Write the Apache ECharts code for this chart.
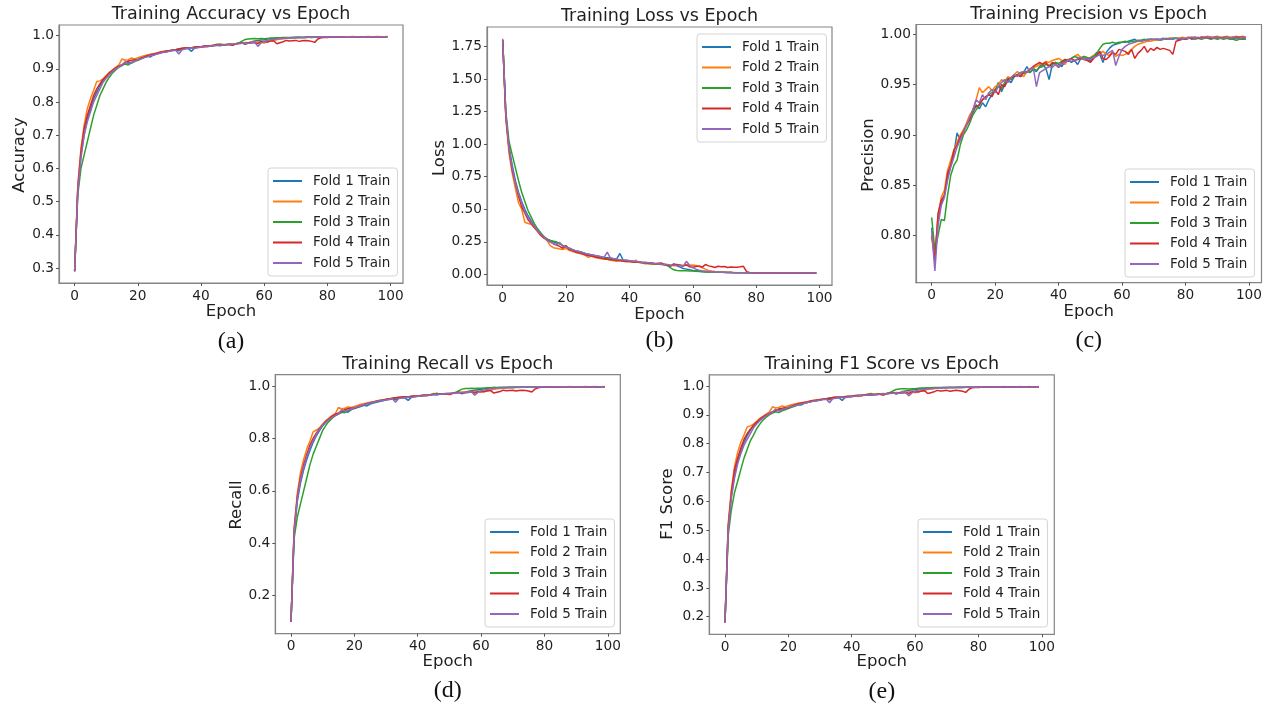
<!DOCTYPE html>
<html>
<head>
<meta charset="utf-8">
<title>Training metrics per fold</title>
<script src="https://cdn.jsdelivr.net/npm/echarts@6/dist/echarts.min.js"></script>
<style>
  html, body { margin: 0; padding: 0; background: #ffffff; }
  #chart { width: 1273px; height: 713px; }
</style>
</head>
<body>
<div id="chart"></div>
<script>
// ---------------- data ----------------
const foldNames = ['Fold 1 Train', 'Fold 2 Train', 'Fold 3 Train', 'Fold 4 Train', 'Fold 5 Train'];
const foldColors = ['#1f77b4', '#ff7f0e', '#2ca02c', '#d62728', '#9467bd'];
const epochTicks = [0, 20, 40, 60, 80, 100];

const accFold1 = [0.29,0.54,0.64,0.70,0.75,0.78,0.81,0.83,0.85,0.865,
0.875,0.885,0.895,0.902,0.908,0.913,0.918,0.921,0.918,0.925,
0.929,0.932,0.935,0.938,0.936,0.942,0.945,0.948,0.95,0.952,
0.954,0.956,0.957,0.955,0.96,0.962,0.961,0.953,0.963,0.965,
0.966,0.967,0.968,0.969,0.97,0.971,0.97,0.972,0.973,0.974,
0.972,0.976,0.978,0.979,0.974,0.978,0.982,0.984,0.986,0.987,
0.988,0.99,0.991,0.992,0.994,0.993,0.993,0.994,0.994,0.995,
0.994,0.995,0.995,0.995,0.996,0.995,0.996,0.996,0.996,0.996,
0.996,0.997,0.996,0.997,0.996,0.997,0.997,0.996,0.997,0.997,
0.997,0.997,0.996,0.997,0.997,0.997,0.997,0.996,0.997,0.997];
const accFold2 = [0.29,0.55,0.66,0.73,0.78,0.81,0.835,0.862,0.864,0.87,
0.88,0.89,0.897,0.905,0.912,0.93,0.926,0.928,0.933,0.93,
0.934,0.937,0.94,0.942,0.944,0.946,0.948,0.95,0.953,0.952,
0.955,0.957,0.958,0.96,0.962,0.963,0.962,0.964,0.965,0.966,
0.967,0.968,0.966,0.97,0.971,0.975,0.973,0.974,0.972,0.975,
0.976,0.975,0.977,0.978,0.98,0.979,0.981,0.98,0.982,0.981,
0.978,0.982,0.984,0.986,0.988,0.99,0.991,0.992,0.993,0.993,
0.994,0.994,0.995,0.995,0.995,0.996,0.996,0.996,0.996,0.997,
0.996,0.997,0.997,0.997,0.996,0.997,0.997,0.997,0.998,0.997,
0.997,0.997,0.997,0.998,0.997,0.997,0.998,0.997,0.997,0.998];
const accFold3 = [0.29,0.52,0.60,0.64,0.68,0.72,0.76,0.79,0.82,0.84,
0.86,0.875,0.888,0.897,0.905,0.91,0.915,0.912,0.918,0.922,
0.926,0.93,0.934,0.937,0.94,0.943,0.946,0.949,0.951,0.953,
0.955,0.957,0.958,0.96,0.961,0.962,0.963,0.964,0.965,0.966,
0.967,0.968,0.969,0.97,0.971,0.972,0.975,0.973,0.974,0.975,
0.974,0.976,0.978,0.984,0.989,0.99,0.991,0.992,0.991,0.992,
0.991,0.992,0.993,0.993,0.994,0.994,0.995,0.995,0.995,0.995,
0.996,0.996,0.995,0.996,0.996,0.996,0.996,0.997,0.996,0.996,
0.997,0.996,0.997,0.997,0.997,0.996,0.997,0.997,0.997,0.997,
0.996,0.997,0.997,0.996,0.997,0.997,0.996,0.997,0.996,0.996];
const accFold4 = [0.29,0.54,0.65,0.72,0.76,0.79,0.82,0.84,0.855,0.868,
0.878,0.888,0.896,0.903,0.908,0.912,0.918,0.924,0.926,0.928,
0.927,0.933,0.936,0.94,0.943,0.945,0.947,0.95,0.952,0.954,
0.955,0.956,0.958,0.96,0.962,0.963,0.964,0.962,0.966,0.967,
0.966,0.969,0.97,0.968,0.971,0.972,0.973,0.972,0.974,0.973,
0.971,0.975,0.977,0.978,0.976,0.979,0.978,0.98,0.976,0.982,
0.983,0.981,0.984,0.985,0.976,0.979,0.982,0.986,0.984,0.985,
0.986,0.983,0.985,0.986,0.985,0.983,0.98,0.99,0.994,0.995,
0.995,0.996,0.996,0.996,0.997,0.996,0.997,0.997,0.997,0.996,
0.997,0.997,0.997,0.997,0.996,0.997,0.997,0.997,0.997,0.997];
const accFold5 = [0.29,0.53,0.63,0.70,0.74,0.77,0.80,0.82,0.84,0.86,
0.872,0.883,0.892,0.9,0.906,0.911,0.922,0.915,0.92,0.924,
0.928,0.931,0.934,0.937,0.94,0.942,0.945,0.947,0.95,0.951,
0.953,0.955,0.956,0.945,0.958,0.96,0.962,0.963,0.962,0.964,
0.966,0.967,0.968,0.969,0.97,0.971,0.972,0.972,0.973,0.974,
0.974,0.975,0.976,0.977,0.978,0.977,0.979,0.98,0.968,0.978,
0.983,0.986,0.988,0.989,0.99,0.991,0.992,0.993,0.993,0.994,
0.994,0.995,0.995,0.995,0.996,0.995,0.996,0.996,0.996,0.997,
0.996,0.996,0.997,0.997,0.997,0.996,0.997,0.997,0.997,0.997,
0.997,0.996,0.997,0.997,0.997,0.996,0.997,0.997,0.997,0.996];

const lossFold1 = [1.80,1.22,0.98,0.84,0.72,0.63,0.56,0.5,0.45,0.41,
0.37,0.34,0.31,0.29,0.27,0.26,0.25,0.24,0.235,0.22,
0.21,0.2,0.19,0.18,0.175,0.17,0.16,0.155,0.15,0.145,
0.14,0.135,0.13,0.128,0.125,0.12,0.118,0.16,0.11,0.108,
0.105,0.1,0.1,0.095,0.092,0.09,0.088,0.085,0.083,0.08,
0.082,0.072,0.068,0.062,0.08,0.065,0.055,0.045,0.04,0.035,
0.03,0.028,0.025,0.022,0.018,0.02,0.018,0.017,0.016,0.015,
0.015,0.014,0.014,0.013,0.013,0.013,0.012,0.012,0.012,0.012,
0.011,0.011,0.011,0.011,0.01,0.01,0.01,0.01,0.01,0.01,
0.01,0.01,0.01,0.009,0.01,0.009,0.01,0.009,0.01,0.01];
const lossFold2 = [1.80,1.2,0.93,0.78,0.66,0.55,0.5,0.4,0.39,0.385,
0.36,0.33,0.3,0.28,0.26,0.22,0.205,0.2,0.195,0.19,
0.2,0.185,0.175,0.17,0.162,0.155,0.148,0.13,0.14,0.13,
0.125,0.12,0.118,0.115,0.11,0.105,0.1,0.102,0.1,0.098,
0.095,0.094,0.11,0.09,0.088,0.08,0.085,0.075,0.08,0.078,
0.075,0.072,0.07,0.068,0.065,0.07,0.072,0.068,0.075,0.07,
0.072,0.068,0.06,0.05,0.04,0.03,0.025,0.022,0.02,0.018,
0.016,0.015,0.014,0.014,0.013,0.012,0.012,0.012,0.011,0.011,
0.01,0.01,0.01,0.01,0.01,0.01,0.009,0.009,0.009,0.009,
0.009,0.009,0.008,0.008,0.009,0.008,0.008,0.008,0.008,0.008];
const lossFold3 = [1.80,1.25,1.02,0.92,0.82,0.72,0.63,0.56,0.49,0.44,
0.39,0.35,0.32,0.29,0.27,0.26,0.255,0.25,0.235,0.22,
0.215,0.2,0.19,0.18,0.175,0.165,0.16,0.152,0.145,0.14,
0.135,0.13,0.125,0.12,0.118,0.115,0.11,0.108,0.105,0.102,
0.1,0.098,0.095,0.093,0.09,0.088,0.082,0.085,0.08,0.078,
0.082,0.075,0.068,0.05,0.035,0.03,0.028,0.027,0.028,0.026,
0.026,0.024,0.022,0.02,0.019,0.018,0.017,0.016,0.016,0.015,
0.014,0.014,0.015,0.013,0.013,0.012,0.012,0.011,0.012,0.011,
0.011,0.011,0.01,0.01,0.01,0.011,0.01,0.01,0.01,0.01,
0.011,0.01,0.01,0.011,0.01,0.01,0.011,0.01,0.012,0.012];
const lossFold4 = [1.80,1.21,0.96,0.8,0.7,0.6,0.52,0.47,0.42,0.39,
0.36,0.33,0.3,0.28,0.265,0.25,0.235,0.225,0.215,0.2,
0.22,0.19,0.185,0.17,0.165,0.16,0.15,0.145,0.14,0.135,
0.13,0.125,0.12,0.115,0.112,0.11,0.108,0.112,0.1,0.098,
0.102,0.095,0.092,0.095,0.088,0.09,0.085,0.088,0.082,0.085,
0.088,0.078,0.072,0.065,0.078,0.075,0.07,0.065,0.072,0.058,
0.055,0.06,0.065,0.055,0.075,0.065,0.06,0.052,0.062,0.058,
0.06,0.052,0.056,0.055,0.055,0.058,0.062,0.02,0.015,0.013,
0.012,0.011,0.011,0.01,0.01,0.01,0.01,0.009,0.009,0.01,
0.009,0.009,0.009,0.009,0.01,0.009,0.009,0.009,0.009,0.009];
const lossFold5 = [1.81,1.23,0.97,0.82,0.7,0.62,0.55,0.48,0.44,0.4,
0.37,0.335,0.31,0.29,0.26,0.25,0.235,0.225,0.245,0.215,
0.21,0.2,0.19,0.18,0.175,0.168,0.16,0.155,0.15,0.145,
0.14,0.135,0.13,0.17,0.125,0.12,0.115,0.112,0.11,0.108,
0.105,0.1,0.098,0.095,0.092,0.09,0.088,0.085,0.083,0.082,
0.08,0.078,0.075,0.072,0.07,0.068,0.065,0.062,0.1,0.07,
0.05,0.04,0.032,0.028,0.025,0.022,0.02,0.018,0.017,0.016,
0.015,0.014,0.014,0.013,0.013,0.012,0.012,0.012,0.011,0.011,
0.011,0.011,0.01,0.01,0.01,0.01,0.01,0.01,0.01,0.01,
0.01,0.01,0.01,0.01,0.011,0.01,0.01,0.01,0.011,0.01];

const precFold1 = [0.808,0.78,0.815,0.832,0.84,0.858,0.87,0.882,0.902,0.895,
0.905,0.91,0.918,0.922,0.93,0.926,0.932,0.928,0.935,0.94,
0.944,0.952,0.943,0.95,0.955,0.952,0.958,0.96,0.958,0.962,
0.968,0.962,0.965,0.963,0.968,0.97,0.966,0.955,0.97,0.972,
0.97,0.968,0.973,0.975,0.972,0.974,0.97,0.976,0.977,0.975,
0.973,0.978,0.982,0.98,0.972,0.982,0.986,0.989,0.99,0.991,
0.992,0.992,0.993,0.994,0.995,0.993,0.993,0.994,0.995,0.995,
0.994,0.995,0.995,0.996,0.995,0.995,0.996,0.996,0.995,0.996,
0.996,0.997,0.995,0.996,0.996,0.997,0.996,0.996,0.997,0.996,
0.996,0.997,0.996,0.996,0.997,0.996,0.996,0.997,0.996,0.995];
const precFold2 = [0.80,0.78,0.82,0.838,0.845,0.865,0.875,0.885,0.893,0.9,
0.905,0.912,0.92,0.925,0.935,0.947,0.942,0.945,0.948,0.944,
0.948,0.95,0.955,0.953,0.958,0.956,0.96,0.963,0.96,0.958,
0.963,0.966,0.967,0.968,0.97,0.971,0.973,0.972,0.974,0.975,
0.976,0.974,0.97,0.975,0.976,0.978,0.98,0.977,0.978,0.976,
0.977,0.979,0.98,0.981,0.983,0.98,0.979,0.982,0.978,0.98,
0.979,0.98,0.982,0.985,0.988,0.99,0.991,0.992,0.993,0.993,
0.994,0.994,0.995,0.995,0.995,0.996,0.996,0.996,0.996,0.997,
0.996,0.997,0.997,0.997,0.996,0.997,0.997,0.998,0.997,0.997,
0.998,0.997,0.997,0.998,0.997,0.997,0.998,0.997,0.998,0.997];
const precFold3 = [0.818,0.785,0.80,0.816,0.815,0.84,0.86,0.87,0.875,0.89,
0.9,0.905,0.912,0.92,0.925,0.93,0.935,0.937,0.94,0.942,
0.945,0.948,0.946,0.952,0.956,0.955,0.958,0.96,0.962,0.961,
0.963,0.962,0.966,0.964,0.967,0.968,0.97,0.969,0.97,0.972,
0.971,0.973,0.975,0.974,0.976,0.978,0.977,0.976,0.978,0.977,
0.976,0.978,0.981,0.986,0.99,0.991,0.991,0.992,0.991,0.992,
0.992,0.993,0.992,0.993,0.993,0.994,0.994,0.995,0.994,0.995,
0.995,0.995,0.994,0.995,0.995,0.996,0.995,0.996,0.995,0.996,
0.995,0.996,0.996,0.995,0.996,0.995,0.996,0.996,0.995,0.996,
0.995,0.996,0.995,0.996,0.995,0.995,0.994,0.995,0.995,0.995];
const precFold4 = [0.80,0.775,0.822,0.835,0.84,0.862,0.87,0.885,0.89,0.898,
0.903,0.91,0.915,0.925,0.928,0.93,0.935,0.938,0.94,0.938,
0.945,0.94,0.95,0.948,0.955,0.957,0.958,0.96,0.958,0.963,
0.962,0.965,0.968,0.97,0.972,0.97,0.972,0.968,0.972,0.97,
0.967,0.972,0.975,0.973,0.976,0.974,0.975,0.976,0.975,0.974,
0.972,0.976,0.979,0.983,0.976,0.975,0.978,0.982,0.98,0.985,
0.984,0.983,0.98,0.985,0.976,0.981,0.984,0.988,0.982,0.986,
0.984,0.987,0.985,0.986,0.985,0.984,0.98,0.993,0.994,0.995,
0.995,0.996,0.996,0.997,0.996,0.997,0.997,0.997,0.996,0.997,
0.997,0.996,0.997,0.997,0.996,0.997,0.997,0.997,0.997,0.997];
const precFold5 = [0.805,0.765,0.81,0.83,0.838,0.855,0.868,0.878,0.888,0.895,
0.902,0.91,0.918,0.925,0.935,0.932,0.94,0.935,0.942,0.945,
0.942,0.948,0.952,0.955,0.952,0.957,0.96,0.958,0.962,0.963,
0.962,0.965,0.967,0.948,0.962,0.964,0.966,0.968,0.967,0.97,
0.968,0.971,0.972,0.974,0.975,0.973,0.976,0.977,0.975,0.976,
0.975,0.977,0.978,0.98,0.979,0.98,0.982,0.984,0.969,0.978,
0.985,0.988,0.99,0.991,0.992,0.993,0.993,0.994,0.994,0.995,
0.995,0.995,0.994,0.995,0.996,0.995,0.996,0.996,0.996,0.995,
0.996,0.996,0.997,0.996,0.997,0.996,0.996,0.997,0.997,0.996,
0.997,0.996,0.996,0.997,0.996,0.997,0.996,0.996,0.997,0.996];

const recFold1 = [0.10,0.44,0.56,0.63,0.68,0.72,0.755,0.785,0.81,0.83,
0.848,0.862,0.873,0.882,0.888,0.893,0.9,0.905,0.9,0.91,
0.915,0.918,0.922,0.926,0.924,0.931,0.935,0.938,0.941,0.944,
0.946,0.948,0.95,0.947,0.953,0.955,0.954,0.945,0.957,0.959,
0.961,0.962,0.963,0.964,0.966,0.967,0.966,0.968,0.969,0.97,
0.968,0.973,0.975,0.977,0.97,0.975,0.98,0.982,0.984,0.986,
0.987,0.989,0.99,0.992,0.994,0.993,0.993,0.994,0.994,0.995,
0.994,0.995,0.995,0.995,0.996,0.995,0.996,0.996,0.996,0.996,
0.996,0.997,0.996,0.997,0.996,0.997,0.997,0.996,0.997,0.997,
0.997,0.997,0.996,0.997,0.997,0.997,0.997,0.996,0.997,0.997];
const recFold2 = [0.10,0.46,0.59,0.67,0.72,0.76,0.79,0.825,0.832,0.84,
0.855,0.868,0.878,0.887,0.895,0.918,0.912,0.915,0.92,0.918,
0.922,0.926,0.93,0.932,0.935,0.938,0.94,0.943,0.946,0.945,
0.948,0.95,0.952,0.954,0.956,0.957,0.956,0.959,0.96,0.961,
0.962,0.964,0.962,0.966,0.967,0.971,0.969,0.97,0.968,0.971,
0.972,0.972,0.974,0.975,0.977,0.976,0.978,0.977,0.979,0.978,
0.976,0.979,0.982,0.985,0.987,0.989,0.99,0.991,0.992,0.993,
0.993,0.994,0.994,0.995,0.995,0.995,0.996,0.996,0.996,0.996,
0.996,0.997,0.997,0.997,0.996,0.997,0.997,0.997,0.998,0.997,
0.997,0.997,0.997,0.998,0.997,0.997,0.998,0.997,0.997,0.998];
const recFold3 = [0.10,0.42,0.5,0.55,0.6,0.65,0.7,0.74,0.77,0.8,
0.83,0.85,0.865,0.877,0.887,0.894,0.9,0.898,0.905,0.91,
0.915,0.92,0.924,0.928,0.932,0.935,0.938,0.941,0.944,0.946,
0.948,0.95,0.952,0.954,0.955,0.957,0.958,0.959,0.96,0.961,
0.962,0.963,0.965,0.966,0.967,0.968,0.972,0.969,0.97,0.971,
0.97,0.972,0.975,0.982,0.988,0.99,0.99,0.991,0.99,0.991,
0.991,0.992,0.993,0.993,0.994,0.994,0.995,0.995,0.995,0.995,
0.996,0.996,0.995,0.996,0.996,0.996,0.996,0.997,0.996,0.996,
0.997,0.996,0.997,0.997,0.997,0.996,0.997,0.997,0.997,0.997,
0.996,0.997,0.997,0.996,0.997,0.997,0.996,0.997,0.996,0.996];
const recFold4 = [0.10,0.45,0.58,0.65,0.7,0.74,0.775,0.8,0.82,0.838,
0.852,0.865,0.875,0.885,0.892,0.897,0.903,0.91,0.913,0.916,
0.914,0.92,0.925,0.929,0.933,0.936,0.939,0.942,0.945,0.947,
0.949,0.951,0.953,0.955,0.957,0.958,0.959,0.957,0.961,0.962,
0.961,0.964,0.966,0.964,0.967,0.968,0.969,0.968,0.97,0.969,
0.967,0.971,0.974,0.975,0.973,0.976,0.975,0.977,0.973,0.979,
0.98,0.978,0.982,0.983,0.973,0.976,0.979,0.984,0.982,0.983,
0.984,0.981,0.983,0.984,0.983,0.981,0.977,0.988,0.993,0.995,
0.995,0.996,0.996,0.996,0.997,0.996,0.997,0.997,0.997,0.996,
0.997,0.997,0.997,0.997,0.996,0.997,0.997,0.997,0.997,0.997];
const recFold5 = [0.10,0.44,0.57,0.64,0.69,0.73,0.765,0.79,0.815,0.835,
0.85,0.862,0.872,0.88,0.887,0.893,0.91,0.903,0.908,0.912,
0.917,0.921,0.925,0.928,0.932,0.935,0.938,0.941,0.944,0.945,
0.947,0.949,0.951,0.938,0.952,0.954,0.956,0.957,0.956,0.959,
0.961,0.962,0.963,0.964,0.966,0.967,0.968,0.968,0.969,0.97,
0.971,0.972,0.973,0.974,0.975,0.974,0.976,0.977,0.965,0.975,
0.981,0.985,0.987,0.989,0.99,0.991,0.992,0.993,0.993,0.994,
0.994,0.995,0.995,0.995,0.996,0.995,0.996,0.996,0.996,0.997,
0.996,0.996,0.997,0.997,0.997,0.996,0.997,0.997,0.997,0.997,
0.997,0.996,0.997,0.997,0.997,0.996,0.997,0.997,0.997,0.996];

const f1Fold1 = [0.18,0.5,0.62,0.69,0.74,0.775,0.805,0.828,0.847,0.862,
0.873,0.883,0.893,0.9,0.906,0.911,0.916,0.919,0.916,0.923,
0.927,0.93,0.933,0.936,0.934,0.94,0.943,0.946,0.948,0.95,
0.952,0.954,0.955,0.952,0.958,0.96,0.959,0.95,0.961,0.963,
0.964,0.965,0.966,0.967,0.968,0.969,0.968,0.97,0.971,0.972,
0.97,0.974,0.976,0.978,0.972,0.976,0.981,0.983,0.985,0.986,
0.988,0.99,0.991,0.992,0.994,0.993,0.993,0.994,0.994,0.995,
0.994,0.995,0.995,0.995,0.996,0.995,0.996,0.996,0.996,0.996,
0.996,0.997,0.996,0.997,0.996,0.997,0.997,0.996,0.997,0.997,
0.997,0.997,0.996,0.997,0.997,0.997,0.997,0.996,0.997,0.997];
const f1Fold2 = [0.18,0.52,0.64,0.72,0.77,0.805,0.83,0.858,0.862,0.868,
0.878,0.888,0.895,0.903,0.91,0.928,0.924,0.926,0.931,0.928,
0.932,0.935,0.938,0.94,0.942,0.944,0.946,0.948,0.951,0.95,
0.953,0.955,0.956,0.958,0.96,0.961,0.96,0.962,0.963,0.964,
0.965,0.966,0.964,0.968,0.969,0.973,0.971,0.972,0.97,0.973,
0.974,0.973,0.975,0.976,0.978,0.977,0.979,0.978,0.98,0.979,
0.977,0.98,0.983,0.986,0.988,0.99,0.991,0.992,0.993,0.993,
0.994,0.994,0.995,0.995,0.995,0.996,0.996,0.996,0.996,0.997,
0.996,0.997,0.997,0.997,0.996,0.997,0.997,0.997,0.998,0.997,
0.997,0.997,0.997,0.998,0.997,0.997,0.998,0.997,0.997,0.998];
const f1Fold3 = [0.18,0.48,0.57,0.63,0.67,0.71,0.75,0.78,0.81,0.83,
0.852,0.868,0.882,0.892,0.9,0.906,0.911,0.908,0.914,0.918,
0.922,0.926,0.93,0.934,0.937,0.94,0.943,0.946,0.948,0.95,
0.952,0.954,0.956,0.958,0.959,0.96,0.961,0.962,0.963,0.964,
0.965,0.966,0.967,0.968,0.969,0.97,0.974,0.971,0.972,0.973,
0.972,0.974,0.977,0.983,0.988,0.99,0.991,0.991,0.99,0.991,
0.991,0.992,0.993,0.993,0.994,0.994,0.995,0.995,0.995,0.995,
0.996,0.996,0.995,0.996,0.996,0.996,0.996,0.997,0.996,0.996,
0.997,0.996,0.997,0.997,0.997,0.996,0.997,0.997,0.997,0.997,
0.996,0.997,0.997,0.996,0.997,0.997,0.996,0.997,0.996,0.996];
const f1Fold4 = [0.18,0.51,0.63,0.71,0.75,0.785,0.815,0.835,0.85,0.864,
0.875,0.885,0.893,0.9,0.905,0.909,0.915,0.921,0.923,0.925,
0.924,0.93,0.934,0.938,0.941,0.943,0.945,0.948,0.95,0.952,
0.953,0.954,0.956,0.958,0.96,0.961,0.962,0.96,0.964,0.965,
0.964,0.967,0.968,0.966,0.969,0.97,0.971,0.97,0.972,0.971,
0.969,0.973,0.975,0.977,0.974,0.977,0.976,0.978,0.974,0.98,
0.981,0.979,0.983,0.984,0.974,0.977,0.98,0.985,0.983,0.984,
0.985,0.982,0.984,0.985,0.984,0.982,0.978,0.989,0.994,0.995,
0.995,0.996,0.996,0.996,0.997,0.996,0.997,0.997,0.997,0.996,
0.997,0.997,0.997,0.997,0.996,0.997,0.997,0.997,0.997,0.997];
const f1Fold5 = [0.18,0.5,0.61,0.68,0.73,0.765,0.795,0.815,0.835,0.855,
0.868,0.88,0.889,0.897,0.903,0.909,0.92,0.913,0.918,0.922,
0.926,0.929,0.932,0.935,0.938,0.94,0.943,0.945,0.948,0.949,
0.951,0.953,0.954,0.942,0.956,0.958,0.96,0.961,0.96,0.962,
0.964,0.965,0.966,0.967,0.968,0.969,0.97,0.97,0.971,0.972,
0.972,0.973,0.974,0.975,0.976,0.975,0.977,0.978,0.966,0.976,
0.982,0.986,0.988,0.989,0.99,0.991,0.992,0.993,0.993,0.994,
0.994,0.995,0.995,0.995,0.996,0.995,0.996,0.996,0.996,0.997,
0.996,0.996,0.997,0.997,0.997,0.996,0.997,0.997,0.997,0.997,
0.997,0.996,0.997,0.997,0.997,0.996,0.997,0.997,0.997,0.996];

const accTicks = [0.3, 0.4, 0.5, 0.6, 0.7, 0.8, 0.9, 1.0];
const lossTicks = [0, 0.25, 0.5, 0.75, 1.0, 1.25, 1.5, 1.75];
const precTicks = [0.80, 0.85, 0.90, 0.95, 1.00];
const recTicks = [0.2, 0.4, 0.6, 0.8, 1.0];
const f1Ticks = [0.2, 0.3, 0.4, 0.5, 0.6, 0.7, 0.8, 0.9, 1.0];

// ---------------- panel layout ----------------
const panels = [
  { title: 'Training Accuracy vs Epoch', ylabel: 'Accuracy', tag: '(a)',
    folds: [accFold1, accFold2, accFold3, accFold4, accFold5], ticks: accTicks, digits: 1,
    grid: { left: 59, top: 25, width: 344, height: 258 }, ymin: 0.2547, ymax: 1.0324,
    titleY: 14, ylabelX: 20, ylabelY: 155, epochY: 312, tagY: 342, legend: { left: 268, top: 168 } },
  { title: 'Training Loss vs Epoch', ylabel: 'Loss', tag: '(b)',
    folds: [lossFold1, lossFold2, lossFold3, lossFold4, lossFold5], ticks: lossTicks, digits: 2,
    grid: { left: 487, top: 27, width: 345, height: 258 }, ymin: -0.082, ymax: 1.90,
    titleY: 16, ylabelX: 440, ylabelY: 158, epochY: 315, tagY: 341, legend: { left: 697, top: 34 } },
  { title: 'Training Precision vs Epoch', ylabel: 'Precision', tag: '(c)',
    folds: [precFold1, precFold2, precFold3, precFold4, precFold5], ticks: precTicks, digits: 2,
    grid: { left: 916, top: 24.5, width: 345.5, height: 258.2 }, ymin: 0.7533, ymax: 1.0097,
    titleY: 14, ylabelX: 869, ylabelY: 155, epochY: 312, tagY: 341, legend: { left: 1125, top: 169 } },
  { title: 'Training Recall vs Epoch', ylabel: 'Recall', tag: '(d)',
    folds: [recFold1, recFold2, recFold3, recFold4, recFold5], ticks: recTicks, digits: 1,
    grid: { left: 275.3, top: 374.7, width: 345, height: 259 }, ymin: 0.055, ymax: 1.043,
    titleY: 364, ylabelX: 237, ylabelY: 505, epochY: 662, tagY: 691, legend: { left: 485, top: 519 } },
  { title: 'Training F1 Score vs Epoch', ylabel: 'F1 Score', tag: '(e)',
    folds: [f1Fold1, f1Fold2, f1Fold3, f1Fold4, f1Fold5], ticks: f1Ticks, digits: 1,
    grid: { left: 709.3, top: 374.8, width: 345, height: 259.5 }, ymin: 0.139, ymax: 1.039,
    titleY: 364, ylabelX: 668, ylabelY: 504, epochY: 662, tagY: 692, legend: { left: 918, top: 519 } }
];

const sansFont = '"DejaVu Sans", "Noto Sans", sans-serif';
const serifFont = '"Liberation Serif", "DejaVu Serif", serif';
const textColor = '#1f1f1f';
const spineColor = '#858585';

const grids = [], xAxes = [], yAxes = [], series = [], legends = [], texts = [];

panels.forEach((p, i) => {
  grids.push(Object.assign({ show: true, borderColor: spineColor, borderWidth: 1.2, backgroundColor: 'transparent' }, p.grid));

  xAxes.push({
    type: 'value', gridIndex: i, min: -4.95, max: 103.95, position: 'bottom',
    axisLine: { show: true, onZero: false, lineStyle: { color: spineColor, width: 1.2 } },
    splitLine: { show: false },
    axisTick: { show: true, inside: false, length: 3, customValues: epochTicks, lineStyle: { color: '#555', width: 1 } },
    axisLabel: { customValues: epochTicks, margin: 6, color: textColor, fontFamily: sansFont, fontSize: 13.7 }
  });

  yAxes.push({
    type: 'value', gridIndex: i, min: p.ymin, max: p.ymax, position: 'left',
    axisLine: { show: true, onZero: false, lineStyle: { color: spineColor, width: 1.2 } },
    splitLine: { show: false },
    axisTick: { show: true, inside: false, length: 3, customValues: p.ticks, lineStyle: { color: '#555', width: 1 } },
    axisLabel: { customValues: p.ticks, margin: 5, color: textColor, fontFamily: sansFont, fontSize: 13.7,
      formatter: v => Number(v).toFixed(p.digits) }
  });

  p.folds.forEach((vals, k) => {
    series.push({
      type: 'line', name: foldNames[k], xAxisIndex: i, yAxisIndex: i,
      data: vals.map((v, e) => [e, v]),
      showSymbol: false, symbol: 'none', silent: true,
      lineStyle: { color: foldColors[k], width: 1.5 },
      itemStyle: { color: foldColors[k] },
      z: 2 + k
    });
  });

  legends.push({
    data: foldNames, orient: 'vertical', left: p.legend.left, top: p.legend.top,
    icon: 'rect', itemWidth: 29, itemHeight: 2, itemGap: 4.5,
    padding: [5, 7, 5, 5],
    backgroundColor: 'rgba(255,255,255,0.85)', borderColor: '#d4d4d4', borderWidth: 1, borderRadius: 3,
    selectedMode: false,
    textStyle: { color: textColor, fontFamily: sansFont, fontSize: 13.5, lineHeight: 16, padding: [0, 0, 0, 6] }
  });

  const cx = p.grid.left + p.grid.width / 2;
  texts.push({ type: 'text', x: cx, y: p.titleY, silent: true,
    style: { text: p.title, textAlign: 'center', textVerticalAlign: 'middle', fill: textColor, font: '17.5px ' + sansFont } });
  texts.push({ type: 'text', x: cx, y: p.epochY, silent: true,
    style: { text: 'Epoch', textAlign: 'center', textVerticalAlign: 'middle', fill: textColor, font: '16.5px ' + sansFont } });
  texts.push({ type: 'text', x: p.ylabelX, y: p.ylabelY, rotation: Math.PI / 2, silent: true,
    style: { text: p.ylabel, textAlign: 'center', textVerticalAlign: 'middle', fill: textColor, font: '16.5px ' + sansFont } });
  texts.push({ type: 'text', x: cx, y: p.tagY, silent: true,
    style: { text: p.tag, textAlign: 'center', textVerticalAlign: 'middle', fill: '#111', font: '24px ' + serifFont } });
});

const chart = echarts.init(document.getElementById('chart'), null, { renderer: 'canvas' });
chart.setOption({
  animation: false,
  backgroundColor: '#ffffff',
  grid: grids,
  xAxis: xAxes,
  yAxis: yAxes,
  legend: legends,
  series: series,
  graphic: { elements: texts }
});
</script>
</body>
</html>
